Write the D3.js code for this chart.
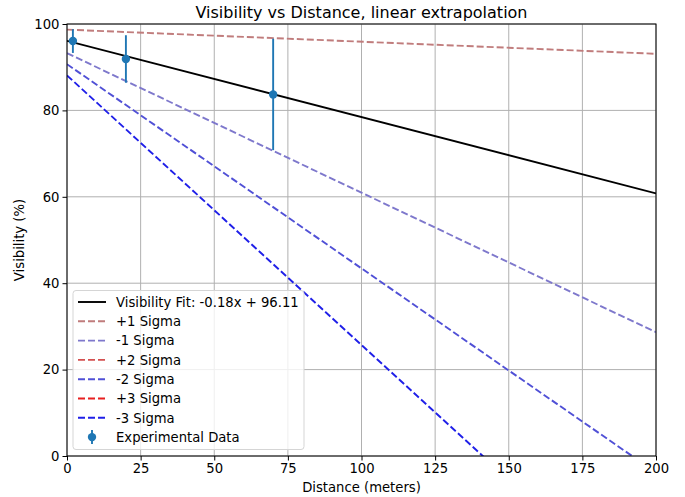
<meta charset="utf-8">
<html>
<script src="https://cdn.jsdelivr.net/npm/d3@7"></script>
<style>
body { margin: 0; background: #fff; font-family: "DejaVu Sans", sans-serif; }
svg text { fill: #000; }
</style>
<body>
<svg id="chart" width="685" height="497"></svg>
<script>

// measured data
var distance = [2, 20, 70];
var visibility = [96.05, 91.9, 83.7];
var visErr = [2.75, 5.5, 12.9];

// fit line and sigma lines (slope, intercept)
var lineNames = ['Visibility Fit: -0.18x + 96.11', '+1 Sigma', '-1 Sigma', '+2 Sigma', '-2 Sigma', '+3 Sigma', '-3 Sigma'];
var lineSlopes = [-0.1766, -0.028, -0.323, 0.12, -0.4727, 0.27, -0.624];
var lineIntercepts = [96.11, 98.7, 93.25, 101.3, 90.7, 103.9, 88.1];
var lineColors = ['#000000', '#c07c7c', '#7e78cc', '#d45050', '#5050d6', '#e81f1f', '#1f1fe8'];

var xTicks = [0, 25, 50, 75, 100, 125, 150, 175, 200];
var yTicks = [0, 20, 40, 60, 80, 100];

var svg = d3.select('#chart');
var pLeft = 67, pRight = 656, pTop = 24, pBottom = 456;
var fs = '13.2px';

var x = d3.scaleLinear().domain([0, 200]).range([pLeft, pRight]);
var y = d3.scaleLinear().domain([0, 100]).range([pBottom, pTop]);

svg.append('defs').append('clipPath').attr('id', 'clip')
	.append('rect').attr('x', pLeft).attr('y', pTop).attr('width', pRight - pLeft).attr('height', pBottom - pTop);

// grid
svg.append('g').selectAll('line').data(xTicks).enter().append('line')
	.attr('x1', function(d) { return x(d); }).attr('x2', function(d) { return x(d); })
	.attr('y1', pTop).attr('y2', pBottom)
	.style('stroke', '#b0b0b0').style('stroke-width', 1);
svg.append('g').selectAll('line').data(yTicks).enter().append('line')
	.attr('y1', function(d) { return y(d); }).attr('y2', function(d) { return y(d); })
	.attr('x1', pLeft).attr('x2', pRight)
	.style('stroke', '#b0b0b0').style('stroke-width', 1);

// lines
var plot = svg.append('g').attr('clip-path', 'url(#clip)');
var line = d3.line().x(function(d) { return x(d[0]); }).y(function(d) { return y(d[1]); });
lineNames.forEach(function(name, i) {
	var pts = [0, 200].map(function(d) { return [d, lineSlopes[i] * d + lineIntercepts[i]]; });
	plot.append('path').attr('d', line(pts))
		.style('fill', 'none').style('stroke', lineColors[i]).style('stroke-width', 1.9)
		.style('stroke-dasharray', i === 0 ? null : '7,3');
});

// error bars
plot.selectAll('line.err').data(distance).enter().append('line')
	.attr('x1', function(d) { return x(d); }).attr('x2', function(d) { return x(d); })
	.attr('y1', function(d, i) { return y(visibility[i] + visErr[i]); })
	.attr('y2', function(d, i) { return y(visibility[i] - visErr[i]); })
	.style('stroke', '#1f77b4').style('stroke-width', 1.9);
plot.selectAll('circle').data(distance).enter().append('circle')
	.attr('cx', function(d) { return x(d); })
	.attr('cy', function(d, i) { return y(visibility[i]); })
	.attr('r', 4.2).style('fill', '#1f77b4');

// axes
var xAxis = svg.append('g').attr('transform', 'translate(0,' + pBottom + ')')
	.call(d3.axisBottom(x).tickValues(xTicks).tickSize(4.5).tickPadding(3));
var yAxis = svg.append('g').attr('transform', 'translate(' + pLeft + ',0)')
	.call(d3.axisLeft(y).tickValues(yTicks).tickSize(4.5).tickPadding(3));
[xAxis, yAxis].forEach(function(a) {
	a.selectAll('text').style('font-size', fs).style('font-family', 'DejaVu Sans');
	a.select('.domain').remove();
	a.selectAll('line').style('stroke', '#000').style('stroke-width', 1);
});

// spines
svg.append('rect').attr('x', pLeft).attr('y', pTop).attr('width', pRight - pLeft).attr('height', pBottom - pTop)
	.style('fill', 'none').style('stroke', '#000').style('stroke-width', 1);

// labels
svg.append('text').attr('x', (pLeft + pRight) / 2).attr('y', 18).attr('text-anchor', 'middle')
	.style('font-size', '16px').text('Visibility vs Distance, linear extrapolation');
svg.append('text').attr('x', (pLeft + pRight) / 2).attr('y', 492).attr('text-anchor', 'middle')
	.style('font-size', fs).text('Distance (meters)');
svg.append('text').attr('transform', 'translate(24,' + ((pTop + pBottom) / 2) + ') rotate(-90)')
	.attr('text-anchor', 'middle').style('font-size', fs).text('Visibility (%)');

// legend
var lg = svg.append('g');
lg.append('rect').attr('x', 73).attr('y', 290.5).attr('width', 231).attr('height', 159).attr('rx', 3)
	.style('fill', 'rgba(255,255,255,0.8)').style('stroke', '#d5d5d5').style('stroke-width', 1);
var rowY = function(i) { return 302 + i * 19.3; };
lineNames.forEach(function(name, i) {
	lg.append('line').attr('x1', 78).attr('x2', 106).attr('y1', rowY(i)).attr('y2', rowY(i))
		.style('stroke', lineColors[i]).style('stroke-width', 1.9)
		.style('stroke-dasharray', i === 0 ? null : '7,3');
	lg.append('text').attr('x', 116).attr('y', rowY(i) + 4.7).style('font-size', fs).text(name);
});
var ey = rowY(7);
lg.append('line').attr('x1', 92).attr('x2', 92).attr('y1', ey - 7).attr('y2', ey + 7)
	.style('stroke', '#1f77b4').style('stroke-width', 1.9);
lg.append('circle').attr('cx', 92).attr('cy', ey).attr('r', 4.2).style('fill', '#1f77b4');
lg.append('text').attr('x', 116).attr('y', ey + 4.7).style('font-size', fs).text('Experimental Data');

</script>
</body>
</html>
